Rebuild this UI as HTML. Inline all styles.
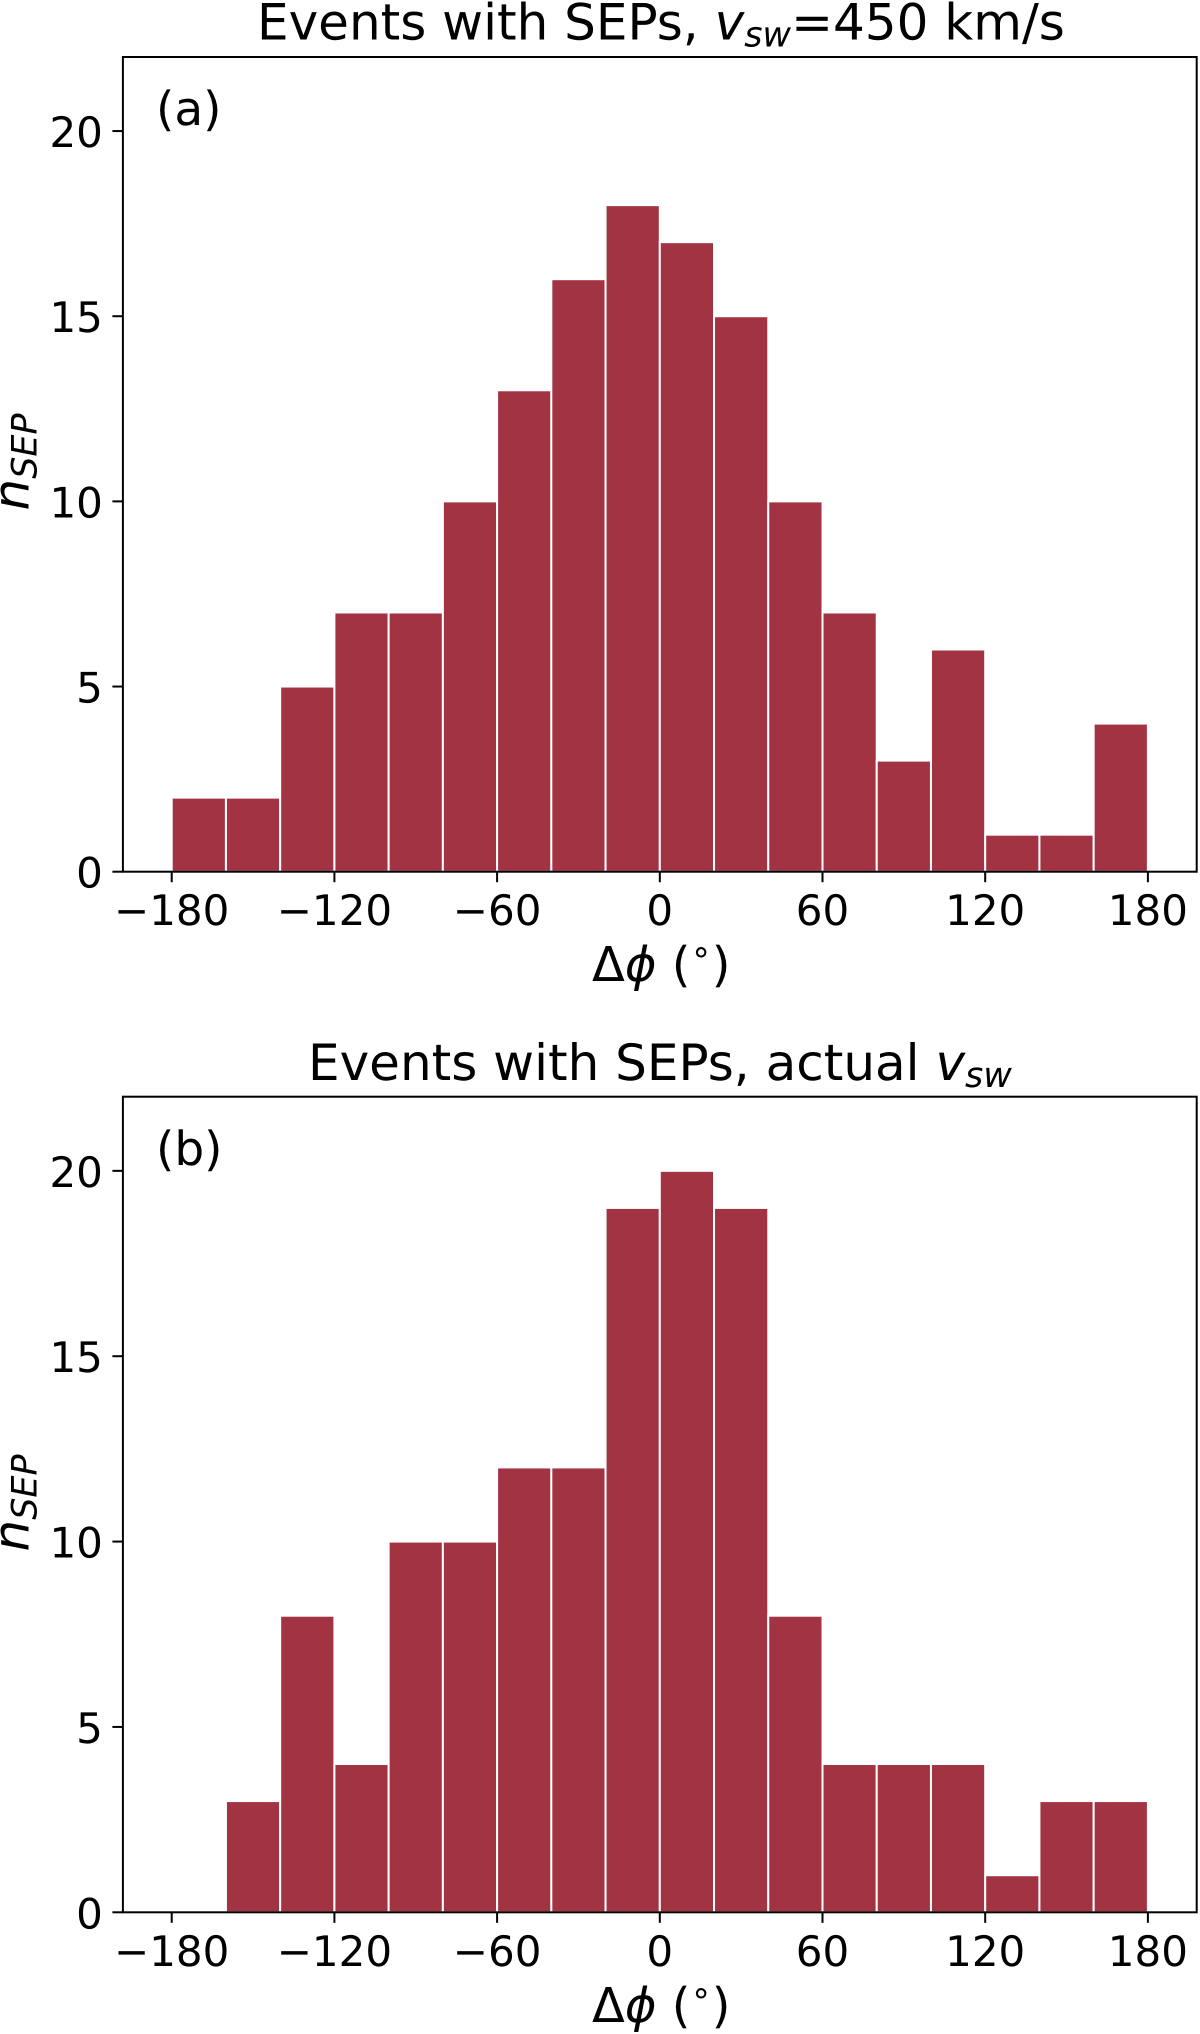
<!DOCTYPE html>
<html lang="en">
<head>
<meta charset="utf-8">
<title>Events with SEPs histograms</title>
<style>
html,body{margin:0;padding:0;background:#fff;width:1200px;height:2034px;overflow:hidden}
svg{display:block}
text{font-family:"DejaVu Sans","Liberation Sans",sans-serif;fill:#000;text-rendering:geometricPrecision}
.ttl{font-size:50px}
.xlab{font-size:48px}
.tick{font-size:42px}
.panel-tag{font-size:47px}
.it{font-style:italic}
</style>
</head>
<body>
<svg id="chart" xmlns="http://www.w3.org/2000/svg" width="1200" height="2034" viewBox="0 0 1200 2034">
  <rect x="0" y="0" width="1200" height="2034" fill="#ffffff"/>
  <g id="panel-a"></g>
  <g id="panel-b"></g>

  <text class="ttl" x="257" y="39.5">Events with SEPs, <tspan class="it">v</tspan><tspan class="it" font-size="35px" dy="7">sw</tspan><tspan dy="-7">=450 km/s</tspan></text>
  <text class="ttl" x="308" y="1080">Events with SEPs, actual <tspan class="it">v</tspan><tspan class="it" font-size="35px" dy="7">sw</tspan></text>

  <text class="panel-tag" x="156" y="125">(a)</text>
  <text class="panel-tag" x="156" y="1165">(b)</text>

  <text class="ttl" transform="translate(28.5,510.5) rotate(-90)"><tspan class="it">n</tspan><tspan class="it" font-size="35px" dy="8">SEP</tspan></text>
  <text class="ttl" transform="translate(28.5,1551.5) rotate(-90)"><tspan class="it">n</tspan><tspan class="it" font-size="35px" dy="8">SEP</tspan></text>

  <text class="xlab" x="592" y="981">Δ<tspan class="it">ϕ</tspan> (<tspan font-size="34px" dy="-18">∘</tspan><tspan dy="18">)</tspan></text>
  <text class="xlab" x="592" y="2022">Δ<tspan class="it">ϕ</tspan> (<tspan font-size="34px" dy="-18">∘</tspan><tspan dy="18">)</tspan></text>
</svg>
<script>
var binStarts = [-180,-160,-140,-120,-100,-80,-60,-40,-20,0,20,40,60,80,100,120,140,160];
var binWidth = 20;
var countsA = [2,2,5,7,7,10,13,16,18,17,15,10,7,3,6,1,1,4];
var countsB = [0,3,8,4,10,10,12,12,19,20,19,8,4,4,4,1,3,3];
var xTicks = [-180,-120,-60,0,60,120,180];
var yTicks = [0,5,10,15,20];
var xDomain = [-198,198];
var yDomain = [0,22];

var NS = 'http://www.w3.org/2000/svg';
var plotLeft = 122.9, plotRight = 1196.7;

function make(tag, attrs, parent) {
  var el = document.createElementNS(NS, tag);
  for (var k in attrs) el.setAttribute(k, attrs[k]);
  parent.appendChild(el);
  return el;
}

function drawPanel(groupId, counts, plotTop, plotBottom) {
  var g = document.getElementById(groupId);
  function x(v) { return plotLeft + (v - xDomain[0]) / (xDomain[1] - xDomain[0]) * (plotRight - plotLeft); }
  function y(v) { return plotBottom - (v - yDomain[0]) / (yDomain[1] - yDomain[0]) * (plotBottom - plotTop); }

  counts.forEach(function (c, i) {
    if (c <= 0) return;
    var x0 = x(binStarts[i]), x1 = x(binStarts[i] + binWidth);
    var bar = make('rect', {x: x0, y: y(c), width: x1 - x0, height: y(0) - y(c), fill: '#a23342', stroke: '#ffffff', 'stroke-width': 2}, g);
    
    
  });

  xTicks.forEach(function (t) {
    var px = x(t);
    var mark = make('line', {x1: px, x2: px, y1: plotBottom, y2: plotBottom + 10.5, stroke: '#000', 'stroke-width': 2}, g);
    
    
    var lab = make('text', {x: px, y: plotBottom + 53.5, 'text-anchor': 'middle', 'class': 'tick'}, g);
    lab.textContent = (t < 0 ? '\u2212' : '') + Math.abs(t);
    
    
  });

  yTicks.forEach(function (t) {
    var py = y(t);
    var mark = make('line', {x1: plotLeft - 10.5, x2: plotLeft, y1: py, y2: py, stroke: '#000', 'stroke-width': 2}, g);
    
    
    var lab = make('text', {x: plotLeft - 20, y: py + 16, 'text-anchor': 'end', 'class': 'tick'}, g);
    lab.textContent = String(t);
    
    
  });

  var frame = make('rect', {x: plotLeft, y: plotTop, width: plotRight - plotLeft, height: plotBottom - plotTop, fill: 'none', stroke: '#000', 'stroke-width': 2}, g);
  
  
}

drawPanel('panel-a', countsA, 57, 871.7);
drawPanel('panel-b', countsB, 1096.7, 1912.3);
</script>
</body>
</html>
